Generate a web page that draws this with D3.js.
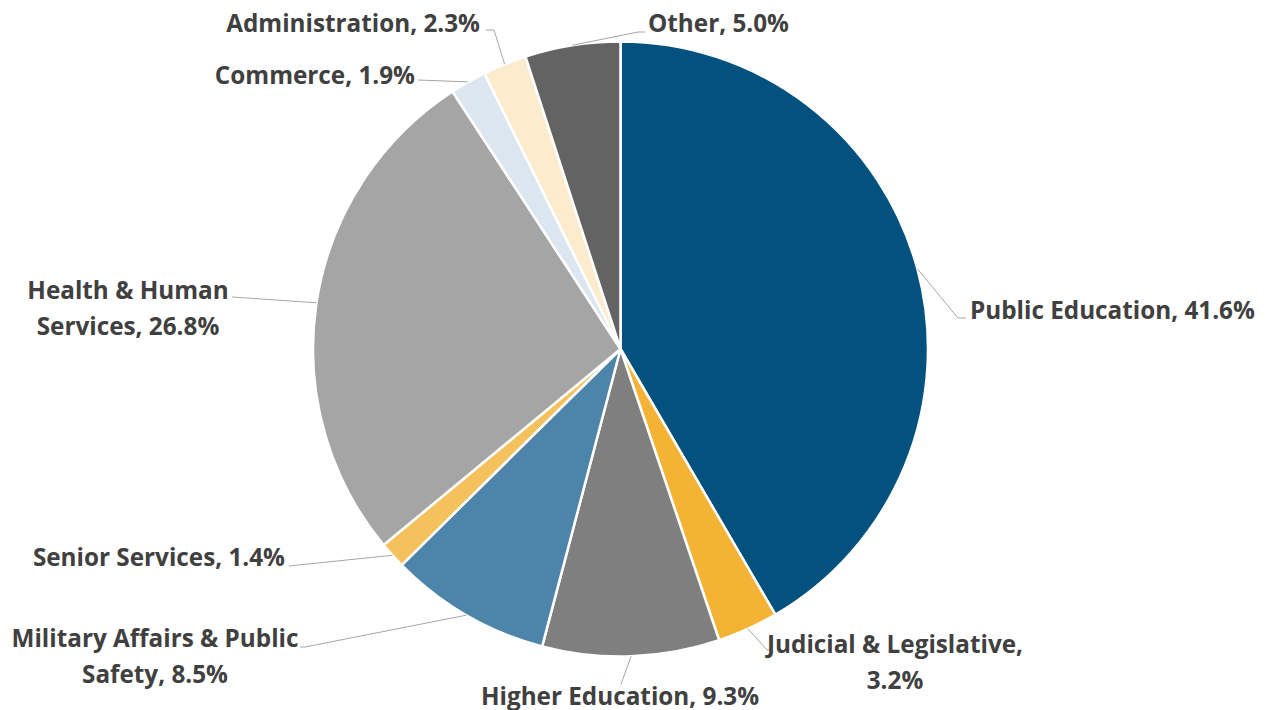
<!DOCTYPE html>
<html>
<head>
<meta charset="utf-8">
<script src="https://cdn.jsdelivr.net/npm/d3@7"></script>
<style>
  html, body { margin: 0; padding: 0; background: #fff; }
  svg { display: block; }
</style>
</head>
<body>
<script>
// data (clockwise from 12 o'clock)
var categories = ["Public Education", "Judicial & Legislative", "Higher Education",
  "Military Affairs & Public Safety", "Senior Services", "Health & Human Services",
  "Commerce", "Administration", "Other"];
var shares = [41.6, 3.2, 9.3, 8.5, 1.4, 26.8, 1.9, 2.3, 5.0];
var colors = ["#02517f", "#f4b334", "#7f7f7f", "#4d84aa", "#f5c15d", "#a5a5a5",
  "#dce6f0", "#fcebcd", "#636363"];

// label lines as written, and where they sit (layout only)
var labelLines = [
  ["Public Education, 41.6%"],
  ["Judicial & Legislative,", "3.2%"],
  ["Higher Education, 9.3%"],
  ["Military Affairs & Public", "Safety, 8.5%"],
  ["Senior Services, 1.4%"],
  ["Health & Human", "Services, 26.8%"],
  ["Commerce, 1.9%"],
  ["Administration, 2.3%"],
  ["Other, 5.0%"]
];
var labelLayout = [
  {x: 970, y: 309, anchor: "start", path: [[958, 318], [966, 318]]},
  {x: 895, y: 643, anchor: "middle", path: [[767, 650], [771, 650]]},
  {x: 620, y: 695, anchor: "middle", path: [[621, 684]]},
  {x: 155, y: 637, anchor: "middle", path: [[305, 647], [300, 647]]},
  {x: 285, y: 556, anchor: "end", path: [[289, 566]]},
  {x: 128, y: 289, anchor: "middle", path: [[232, 297]]},
  {x: 415, y: 74, anchor: "end", path: [[418, 80]]},
  {x: 480, y: 22, anchor: "end", path: [[494, 30], [486, 30]]},
  {x: 648, y: 22, anchor: "start", path: [[638, 32], [645, 32]]}
];

var W = 1267, H = 710;
var cx = 620.5, cy = 349, R = 307.5;

var svg = d3.select("body").append("svg")
  .attr("width", W).attr("height", H);

var pie = d3.pie().sort(null).value(function(d) { return d; });
var arcs = pie(shares);
var arc = d3.arc().innerRadius(0).outerRadius(R);

var g = svg.append("g").attr("transform", "translate(" + cx + "," + cy + ")");

g.selectAll("path.slice")
  .data(arcs)
  .enter().append("path")
  .attr("class", "slice")
  .attr("d", arc)
  .attr("fill", function(d, i) { return colors[i]; })
  .attr("stroke", "#fff")
  .attr("stroke-width", 2.5)
  .attr("stroke-linejoin", "round");

// leader lines
var line = d3.line();
svg.selectAll("path.leader")
  .data(arcs)
  .enter().append("path")
  .attr("class", "leader")
  .attr("d", function(d, i) {
    var a = (d.startAngle + d.endAngle) / 2;
    var p0 = [cx + R * Math.sin(a), cy - R * Math.cos(a)];
    return line([p0].concat(labelLayout[i].path));
  })
  .attr("fill", "none")
  .attr("stroke", "#a6a6a6")
  .attr("stroke-width", 1);

// pick a font size so the longest single-line label is as wide as in the source (~285px)
var fontFamily = "'Open Sans', Lato, sans-serif";
var probe = svg.append("text")
  .attr("font-family", fontFamily).attr("font-weight", "bold").attr("font-size", 20)
  .text(labelLines[0][0]);
var fs = 20 * 285 / probe.node().getComputedTextLength();
probe.remove();

var labels = svg.selectAll("text.lbl")
  .data(categories)
  .enter().append("text")
  .attr("class", "lbl")
  .attr("text-anchor", function(d, i) { return labelLayout[i].anchor; })
  .attr("font-family", fontFamily)
  .attr("font-weight", "bold")
  .attr("font-size", fs)
  .attr("fill", "#404040");

labels.each(function(d, i) {
  var t = d3.select(this);
  labelLines[i].forEach(function(s, k) {
    t.append("tspan")
      .attr("x", labelLayout[i].x)
      .attr("y", labelLayout[i].y + k * 36)
      .attr("dominant-baseline", "central")
      .text(s);
  });
});
</script>
</body>
</html>
